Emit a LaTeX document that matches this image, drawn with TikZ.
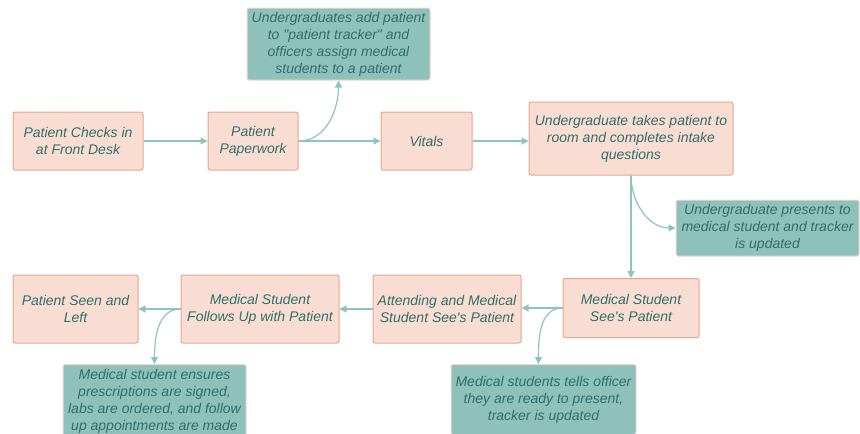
\documentclass[tikz,border=0pt]{standalone}
\usepackage{fontspec}
\setmainfont{Liberation Sans}[Ligatures=TeXOff]
\usetikzlibrary{arrows.meta}
\definecolor{stagefill}{HTML}{F9DDD2}
\definecolor{stageline}{HTML}{E5A68F}
\definecolor{notefill}{HTML}{8FC1BB}
\definecolor{noteline}{HTML}{F3D6CC}
\definecolor{flowline}{HTML}{8DC4BD}
\definecolor{textink}{HTML}{2F6E6D}

\begin{document}
\begin{tikzpicture}[x=1pt,y=-1pt,line width=1pt,
  stagebox/.style={draw=stageline,fill=stagefill,rounded corners=2pt,inner sep=0pt,align=center,
    text=textink,font=\fontsize{14}{17}\selectfont\itshape},
  notebox/.style={stagebox,draw=noteline,fill=notefill},
  flow/.style={draw=flowline,line width=1.2pt,-{Triangle[length=7pt,width=7pt]}}]
\path[use as bounding box] (0,0) rectangle (860,434);
\clip (0,0) rectangle (860,434);
% top row
\node[stagebox,minimum width=130,minimum height=58] (checkin) at (78,141) {Patient Checks in\\at Front Desk};
\node[stagebox,minimum width=90,minimum height=58] (paperwork) at (253,141) {Patient\\Paperwork};
\node[notebox,minimum width=183,minimum height=72] (tracker) at (338.5,44) {Undergraduates add patient\\to "patient tracker" and\\officers assign medical\\students to a patient};
\node[stagebox,minimum width=91,minimum height=58] (vitals) at (426.5,141) {Vitals};
\node[stagebox,minimum width=204,minimum height=73] (intake) at (631,138.5) {Undergraduate takes patient to\\room and completes intake\\questions};
\node[notebox,minimum width=183,minimum height=56] (presents) at (767.5,228) {Undergraduate presents to\\medical student and tracker\\is updated};
% bottom row
\node[stagebox,minimum width=136,minimum height=59] (medsees) at (631,308) {Medical Student\\See's Patient};
\node[stagebox,minimum width=148,minimum height=68] (attending) at (447,309) {Attending and Medical\\Student See's Patient};
\node[stagebox,minimum width=158,minimum height=68] (followup) at (260,309) {Medical Student\\Follows Up with Patient};
\node[stagebox,minimum width=125,minimum height=68] (seenleft) at (75.5,309) {Patient Seen and\\Left};
\node[notebox,minimum width=185,minimum height=70,anchor=north] (ready) at (543.5,364) {Medical students tells officer\\they are ready to present,\\tracker is updated};
\node[notebox,minimum width=183,minimum height=74,anchor=north] (ensures) at (154.5,364) {Medical student ensures\\prescriptions are signed,\\labs are ordered, and follow\\up appointments are made};
% connectors
\draw[flow] (checkin) -- (paperwork);
\draw[flow] (paperwork) -- (vitals);
\draw[flow] (paperwork.east) to[out=0,in=-90] (tracker.south);
\draw[flow] (vitals.east) -- (vitals.east -| intake.west);
\draw[flow] (intake) -- (medsees);
\draw[flow] (intake.south) to[out=-90,in=180] (presents.west);
\draw[flow] (medsees.west) -- (medsees.west -| attending.east);
\draw[flow] (medsees.west) to[out=180,in=90] ([xshift=-5pt]ready.north);
\draw[flow] (attending) -- (followup);
\draw[flow] (followup) -- (seenleft);
\draw[flow] (followup.west) to[out=180,in=90] (ensures.north);
\end{tikzpicture}
\end{document}
